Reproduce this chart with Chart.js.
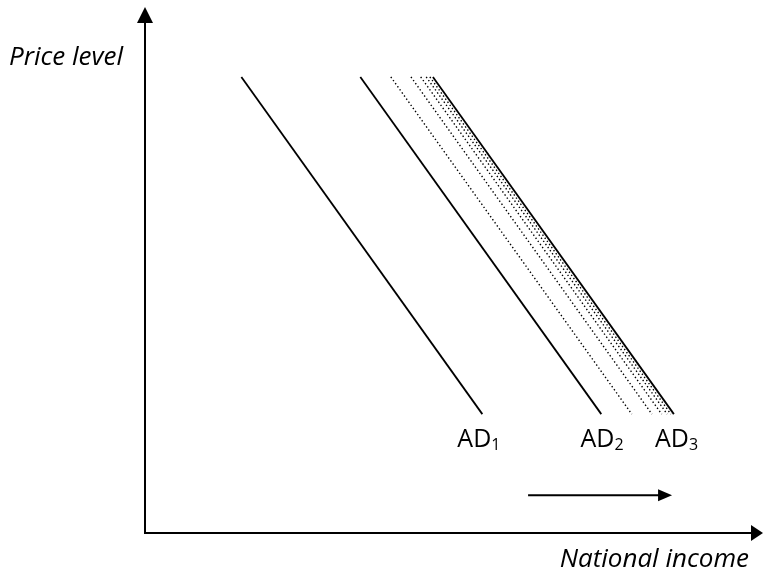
<!DOCTYPE html>
<html>
<head>
<meta charset="utf-8">
<script src="https://cdn.jsdelivr.net/npm/chart.js@4"></script>
<style>
html,body{margin:0;padding:0;background:#fff;}
#wrap{width:764px;height:573px;}
</style>
</head>
<body>
<div id="wrap"><canvas id="c" width="764" height="573"></canvas></div>
<script>
// ---- data (income units 0..100, price units 0..100) ----
const curveLabels = ['AD', 'AD', 'AD'];
const curveSubs = ['1', '2', '3'];
const priceTop = 86.7;
const priceBottom = 22.6;
const incomeAtTop = [15.8, 35.3, 47.2];
const incomeAtBottom = [55.3, 74.8, 86.7];
const dottedIncomeTop = [40.3, 43.6, 45.2, 46.1, 46.7];
const dottedIncomeBottom = [79.8, 83.1, 84.7, 85.6, 86.2];
const labelIncome = [51.2, 71.4, 83.6];
const labelPrice = 16.3;
const shiftFrom = 62.8;
const shiftTo = 86.4;
const shiftPrice = 7.2;
const xTitle = 'National income';
const yTitle = 'Price level';

const datasets = [];
for (let i = 0; i < dottedIncomeTop.length; i++) {
  datasets.push({
    data: [{x: dottedIncomeTop[i], y: priceTop}, {x: dottedIncomeBottom[i], y: priceBottom}],
    showLine: true, borderColor: '#000', borderWidth: 1.4, borderDash: [1.4, 2.4],
    pointRadius: 0, fill: false
  });
}
for (let i = 0; i < incomeAtTop.length; i++) {
  datasets.push({
    data: [{x: incomeAtTop[i], y: priceTop}, {x: incomeAtBottom[i], y: priceBottom}],
    showLine: true, borderColor: '#000', borderWidth: 1.8,
    pointRadius: 0, fill: false
  });
}
datasets.push({
  data: [{x: shiftFrom, y: shiftPrice}, {x: shiftTo - 2, y: shiftPrice}],
  showLine: true, borderColor: '#000', borderWidth: 2, pointRadius: 0, fill: false
});

const decor = {
  id: 'decor',
  afterDatasetsDraw(chart) {
    const ctx = chart.ctx;
    const a = chart.chartArea;
    const xs = chart.scales.x, ys = chart.scales.y;
    ctx.save();
    ctx.fillStyle = '#000';
    ctx.strokeStyle = '#000';
    ctx.lineWidth = 2;
    // axes
    ctx.beginPath();
    ctx.moveTo(a.left, a.top + 12);
    ctx.lineTo(a.left, a.bottom);
    ctx.lineTo(a.right - 4, a.bottom);
    ctx.stroke();
    // y arrowhead
    ctx.beginPath();
    ctx.moveTo(a.left, a.top);
    ctx.lineTo(a.left - 8, a.top + 16);
    ctx.lineTo(a.left + 8, a.top + 16);
    ctx.closePath(); ctx.fill();
    // x arrowhead
    ctx.beginPath();
    ctx.moveTo(a.right + 8, a.bottom);
    ctx.lineTo(a.right - 4, a.bottom - 8);
    ctx.lineTo(a.right - 4, a.bottom + 8);
    ctx.closePath(); ctx.fill();
    // shift arrowhead
    const tx = xs.getPixelForValue(shiftTo), ty = ys.getPixelForValue(shiftPrice);
    ctx.beginPath();
    ctx.moveTo(tx, ty);
    ctx.lineTo(tx - 14, ty - 6);
    ctx.lineTo(tx - 14, ty + 6);
    ctx.closePath(); ctx.fill();
    // titles
    ctx.textBaseline = 'alphabetic';
    ctx.font = 'italic 26px "Open Sans"';
    ctx.textAlign = 'left';
    ctx.fillText(yTitle, 9, 65);
    ctx.textAlign = 'right';
    ctx.fillText(xTitle, 749, 567);
    // curve labels
    ctx.textAlign = 'left';
    for (let i = 0; i < curveLabels.length; i++) {
      const lx = xs.getPixelForValue(labelIncome[i]);
      const ly = ys.getPixelForValue(labelPrice);
      ctx.font = '25px "Open Sans"';
      ctx.fillText(curveLabels[i], lx, ly);
      const w = ctx.measureText(curveLabels[i]).width;
      ctx.font = '16px "Open Sans"';
      ctx.fillText(curveSubs[i], lx + w, ly + 3);
    }
    ctx.restore();
  }
};

new Chart(document.getElementById('c'), {
  type: 'scatter',
  data: { datasets },
  options: {
    responsive: false,
    devicePixelRatio: 1,
    animation: false,
    layout: { padding: { left: 145, right: 9, top: 7, bottom: 40 } },
    plugins: { legend: { display: false }, tooltip: { enabled: false }, title: { display: false } },
    scales: {
      x: { type: 'linear', min: 0, max: 100, display: false },
      y: { type: 'linear', min: 0, max: 100, display: false }
    },
    elements: { line: { tension: 0, borderCapStyle: 'butt' } }
  },
  plugins: [decor]
});
</script>
</body>
</html>
